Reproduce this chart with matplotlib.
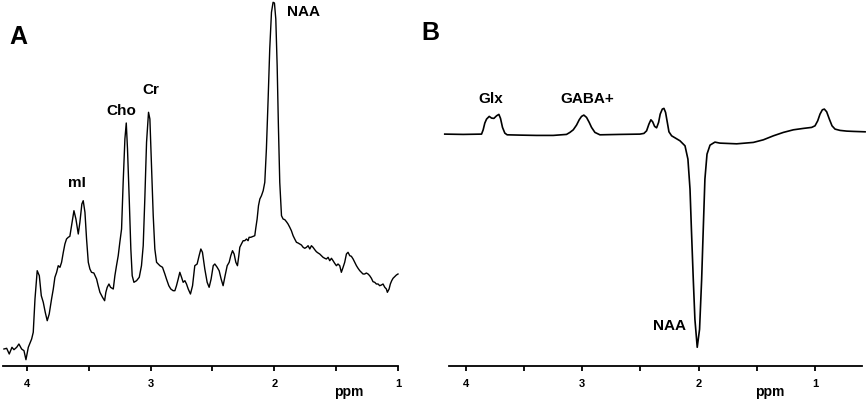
import matplotlib
matplotlib.use("Agg")
import matplotlib.pyplot as plt

plt.rcParams['font.family'] = ['Liberation Sans', 'DejaVu Sans']

# ---------------- Panel A: short-TE spectrum ----------------
ppm_a = [4.186, 4.164, 4.143, 4.121, 4.105, 4.083, 4.065, 4.043, 4.024, 4.008,
         3.989, 3.962, 3.949, 3.935, 3.917, 3.900, 3.884, 3.868, 3.852, 3.836,
         3.820, 3.801, 3.787, 3.774, 3.760, 3.747, 3.733, 3.720, 3.706, 3.693,
         3.680, 3.666, 3.653, 3.639, 3.620, 3.604, 3.585, 3.572, 3.556, 3.545,
         3.531, 3.518, 3.504, 3.491, 3.478, 3.459, 3.437, 3.424, 3.410, 3.389,
         3.372, 3.362, 3.351, 3.337, 3.324, 3.302, 3.289, 3.276, 3.262, 3.249,
         3.235, 3.222, 3.208, 3.197, 3.187, 3.173, 3.160, 3.149, 3.135, 3.114,
         3.092, 3.074, 3.060, 3.047, 3.033, 3.017, 3.006, 2.993, 2.979, 2.966,
         2.952, 2.939, 2.925, 2.904, 2.885, 2.872, 2.853, 2.837, 2.818, 2.804,
         2.791, 2.777, 2.764, 2.750, 2.737, 2.723, 2.710, 2.696, 2.678, 2.661,
         2.643, 2.624, 2.608, 2.594, 2.581, 2.562, 2.543, 2.527, 2.511, 2.494,
         2.481, 2.462, 2.446, 2.430, 2.414, 2.398, 2.381, 2.365, 2.352, 2.338,
         2.325, 2.311, 2.298, 2.287, 2.279, 2.266, 2.252, 2.239, 2.225, 2.212,
         2.204, 2.190, 2.171, 2.158, 2.150, 2.139, 2.128, 2.117, 2.104, 2.090,
         2.077, 2.064, 2.050, 2.037, 2.023, 2.010, 1.999, 1.988, 1.977, 1.967,
         1.956, 1.942, 1.929, 1.915, 1.902, 1.889, 1.875, 1.862, 1.848, 1.835,
         1.821, 1.808, 1.794, 1.781, 1.767, 1.754, 1.740, 1.727, 1.713, 1.700,
         1.687, 1.673, 1.660, 1.646, 1.633, 1.619, 1.606, 1.592, 1.579, 1.565,
         1.552, 1.538, 1.525, 1.512, 1.498, 1.485, 1.471, 1.458, 1.444, 1.431,
         1.417, 1.404, 1.390, 1.377, 1.363, 1.350, 1.336, 1.323, 1.309, 1.296,
         1.283, 1.269, 1.256, 1.242, 1.229, 1.215, 1.202, 1.188, 1.175, 1.161,
         1.148, 1.134, 1.121, 1.107, 1.094, 1.086, 1.072, 1.062, 1.051, 1.040,
         1.027, 1.013, 1.000]
int_a = [17.0, 17.7, 12.0, 18.7, 16.3, 18.7, 22.0, 17.0, 15.3, 6.3,
         18.7, 27.0, 33.7, 67.0, 95.3, 90.3, 70.3, 63.7, 53.7, 45.3,
         52.0, 67.0, 77.0, 88.7, 93.7, 100.3, 98.7, 103.7, 113.7, 122.0,
         127.0, 128.7, 129.7, 140.3, 155.3, 147.0, 132.0, 143.7, 162.0, 165.3,
         153.7, 127.0, 103.7, 97.0, 93.7, 93.0, 87.0, 80.3, 73.7, 68.7,
         65.3, 73.7, 78.7, 82.0, 78.7, 77.0, 90.3, 100.3, 110.3, 123.7,
         137.0, 183.7, 227.0, 243.0, 217.0, 167.0, 117.0, 90.3, 83.7, 85.3,
         88.7, 100.3, 120.3, 167.0, 223.7, 253.7, 247.0, 200.3, 150.3, 117.0,
         103.7, 102.0, 100.3, 98.7, 92.0, 87.0, 80.3, 77.0, 75.3, 75.3,
         80.3, 87.0, 93.7, 88.7, 83.7, 85.3, 82.0, 77.0, 72.0, 80.3,
         100.3, 102.0, 110.3, 117.0, 113.7, 97.0, 83.7, 78.7, 87.0, 100.3,
         102.0, 98.7, 95.3, 87.0, 80.3, 90.3, 100.3, 103.7, 110.3, 115.3,
         112.0, 103.7, 100.3, 110.3, 118.7, 122.0, 125.3, 125.3, 127.0, 125.3,
         128.7, 128.7, 129.7, 130.3, 137.7, 147.0, 160.3, 167.0, 170.3, 175.3,
         183.7, 217.0, 267.0, 317.0, 353.7, 363.7, 363.0, 347.0, 300.3, 240.3,
         183.7, 150.3, 147.0, 146.3, 144.3, 142.0, 138.7, 135.3, 130.3, 127.0,
         123.7, 123.0, 122.0, 121.0, 118.7, 117.7, 118.7, 120.3, 117.0, 120.3,
         118.7, 116.3, 114.3, 113.0, 112.0, 110.3, 108.7, 107.7, 107.0, 108.7,
         105.3, 107.7, 105.3, 102.7, 100.3, 102.0, 100.3, 93.7, 98.7, 103.7,
         112.0, 113.7, 110.3, 109.7, 107.0, 103.7, 100.3, 97.7, 95.3, 93.7,
         92.0, 92.0, 93.0, 92.0, 90.3, 87.7, 84.3, 83.7, 82.0, 82.0,
         80.3, 81.0, 82.0, 78.7, 77.0, 73.7, 77.0, 82.0, 85.3, 87.7,
         89.3, 91.0, 92.0]

labels_a = ["mI", "Cho", "Cr", "NAA"]
label_ppm_a = [3.597, 3.234, 3.0, 1.766]
label_int_a = [184, 256, 277, 355]

# ---------------- Panel B: edited (GABA) difference spectrum ----------------
ppm_b = [4.181, 4.023, 3.865, 3.851, 3.837, 3.822, 3.799, 3.779, 3.759, 3.736,
         3.716, 3.702, 3.685, 3.665, 3.645, 3.536, 3.393, 3.249, 3.135, 3.106,
         3.077, 3.049, 3.026, 3.006, 2.986, 2.963, 2.940, 2.920, 2.891, 2.848,
         2.676, 2.504, 2.470, 2.447, 2.427, 2.410, 2.395, 2.378, 2.361, 2.344,
         2.330, 2.312, 2.298, 2.284, 2.269, 2.255, 2.232, 2.203, 2.160, 2.117,
         2.092, 2.074, 2.062, 2.046, 2.032, 2.012, 1.992, 1.974, 1.963, 1.946,
         1.928, 1.902, 1.860, 1.817, 1.673, 1.530, 1.444, 1.358, 1.272, 1.186,
         1.100, 1.029, 1.000, 0.977, 0.957, 0.937, 0.920, 0.900, 0.877, 0.854,
         0.828, 0.785, 0.728, 0.670, 0.570]
int_b = [0.0, -0.3, 0.0, 4.3, 11.0, 15.0, 17.7, 16.0, 15.7, 18.3,
         19.7, 15.7, 6.7, 1.0, -0.7, -1.0, -1.3, -1.3, -0.3, 1.7,
         4.3, 9.0, 14.3, 17.7, 19.0, 16.7, 11.7, 6.7, 1.7, -0.7,
         -0.3, 0.0, 0.7, 3.3, 10.0, 14.3, 12.3, 7.7, 6.3, 11.7,
         20.0, 25.0, 25.7, 21.7, 11.7, 2.3, -1.7, -3.7, -6.7, -11.7,
         -25.0, -55.0, -95.0, -145.0, -185.0, -213.0, -195.0, -145.0, -105.0, -45.0,
         -20.0, -11.0, -8.0, -9.0, -9.7, -8.3, -5.7, -1.7, 1.7, 4.3,
         5.7, 6.7, 8.3, 13.3, 20.0, 24.3, 25.0, 22.3, 15.0, 8.3,
         5.0, 3.7, 3.0, 2.7, 2.3]

labels_b = ["Glx", "GABA+", "NAA"]
label_ppm_b = [3.785, 2.96, 2.25]
label_int_b = [36, 36, -191]

tick_ppm = [4.0, 3.5, 3.0, 2.5, 2.0, 1.5, 1.0]
tick_labels = ["4", "", "3", "", "2", "", "1"]

W, H = 868, 402
fig = plt.figure(figsize=(W / 100, H / 100), dpi=100)

bold = dict(fontweight='bold', color='black')


def style_axis(ax, ymin, ymax, xl, xr):
    ax.set_xlim(xl, xr)
    ax.set_ylim(ymin, ymax)
    for s in ['left', 'right', 'top']:
        ax.spines[s].set_visible(False)
    ax.spines['bottom'].set_linewidth(1.3)
    ax.set_yticks([])
    ax.set_xticks(tick_ppm)
    ax.set_xticklabels(tick_labels)
    ax.tick_params(axis='x', direction='out', length=3.5, width=1.3, pad=5,
                   labelsize=8)
    for lab in ax.get_xticklabels():
        lab.set_fontweight('bold')
    ax.patch.set_visible(False)


# Panel A axes (pixel geometry)
axA = fig.add_axes([2.7 / W, 1 - 367 / H, (398 - 2.7) / W, 367 / H])
axA.plot(ppm_a, int_a, color='black', lw=1.0, clip_on=False)
style_axis(axA, 0, 367, 4.196, 1.0)
for t, x, y in zip(labels_a, label_ppm_a, label_int_a):
    axA.text(x, y, t, ha='center', va='center', fontsize=11, **bold)
axA.text(1.395, -25, "ppm", ha='center', va='center', fontsize=10,
         clip_on=False, **bold)

# Panel B axes
axB = fig.add_axes([449.3 / W, 1 - 367 / H, (861.7 - 449.3) / W, 367 / H])
axB.plot(ppm_b, int_b, color='black', lw=1.2, clip_on=False)
style_axis(axB, -231.7, 135, 4.142, 0.599)
for t, x, y in zip(labels_b, label_ppm_b, label_int_b):
    axB.text(x, y, t, ha='center', va='center', fontsize=11, **bold)
axB.text(1.39, -25 - 231.7, "ppm", ha='center', va='center', fontsize=10,
         clip_on=False, **bold)

fig.text(18.5 / W, 1 - 37.5 / H, "A", ha='center', va='center', fontsize=18, **bold)
fig.text(430 / W, 1 - 33.5 / H, "B", ha='center', va='center', fontsize=18, **bold)

fig.savefig("out.png", dpi=100, facecolor='white')
